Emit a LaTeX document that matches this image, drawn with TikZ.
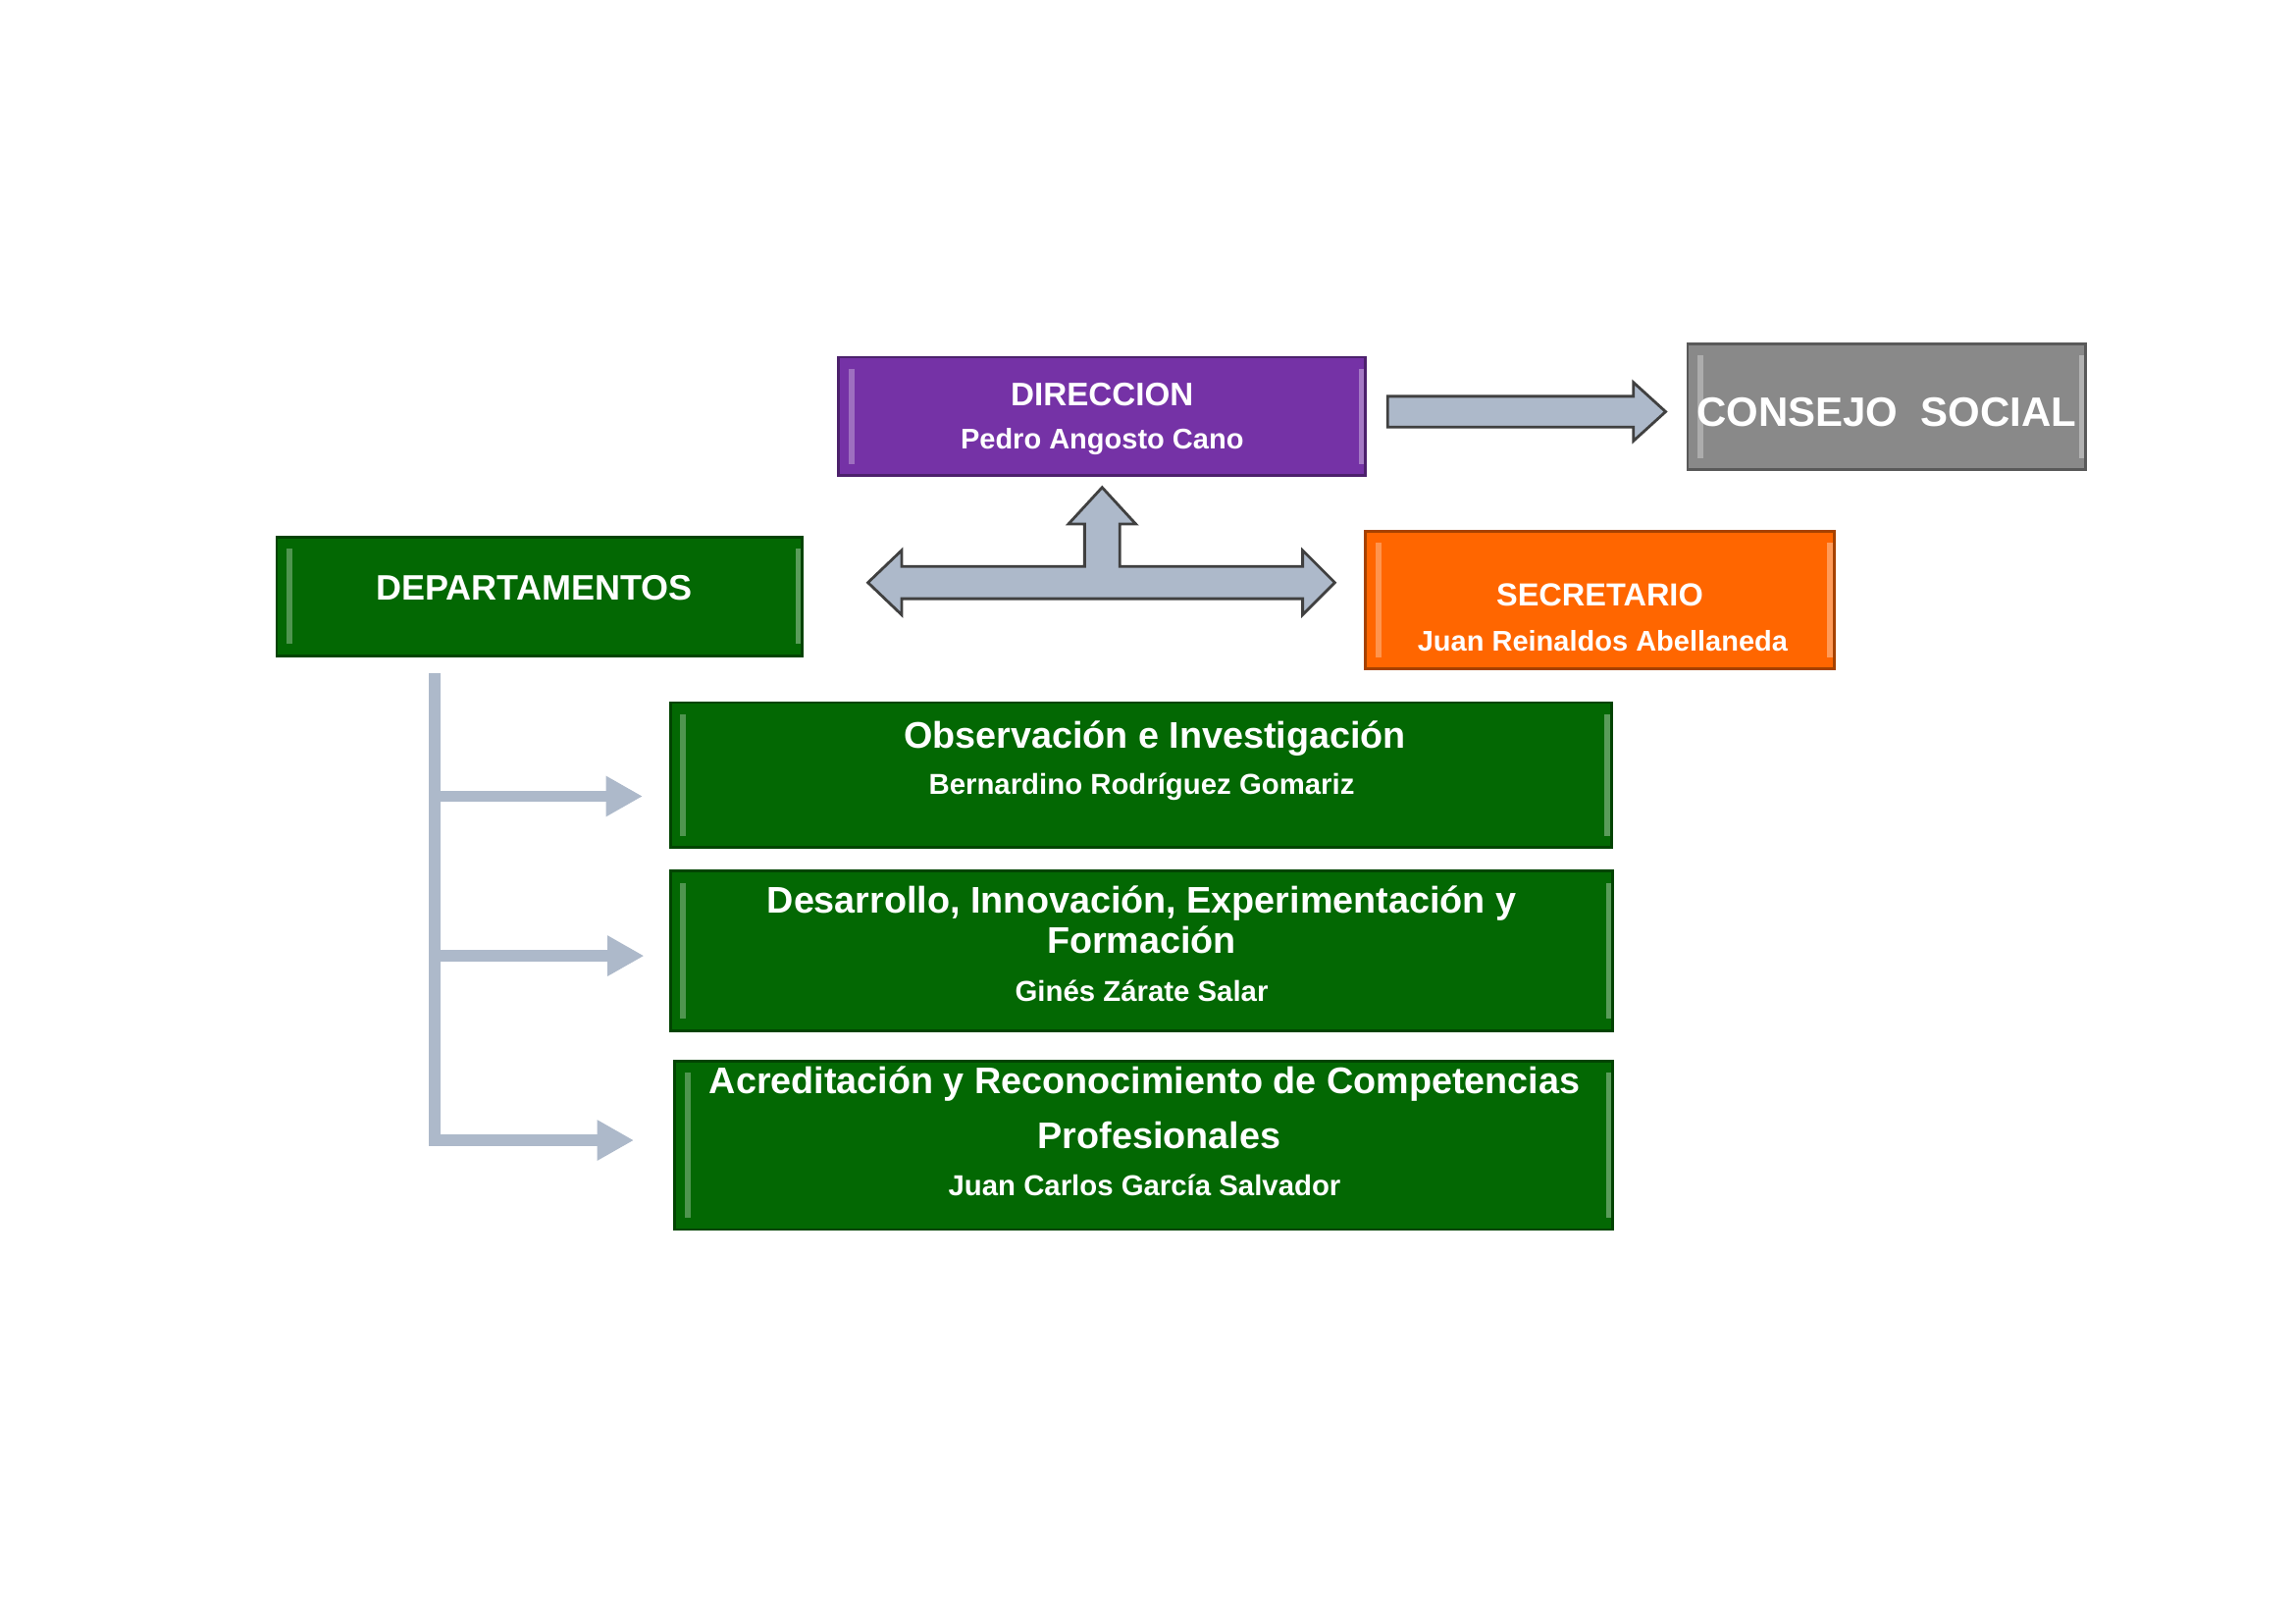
\documentclass[tikz,border=0pt]{standalone}
\usepackage{fontspec}
\setmainfont{Liberation Sans}
\usetikzlibrary{calc,arrows.meta}
\definecolor{dirpurple}{HTML}{7532A6}
\definecolor{consgray}{HTML}{898989}
\definecolor{secorange}{HTML}{FF6600}
\definecolor{depgreen}{HTML}{036803}
\definecolor{arrowgray}{HTML}{ADB9CA}
\newlength\unitpx \setlength\unitpx{0.15mm}
\tikzset{
  caja/.style={draw=#1!65!black, fill=#1, line width=0.8pt, inner sep=0pt,
    path picture={
      \fill[white,opacity=.3] ([xshift=1mm,yshift=-1.2mm]path picture bounding box.north west) rectangle ([xshift=1.6mm,yshift=1.2mm]path picture bounding box.south west);
      \fill[white,opacity=.35] ([xshift=-0.7mm,yshift=-1.2mm]path picture bounding box.north east) rectangle ([xshift=-0.1mm,yshift=1.2mm]path picture bounding box.south east);}},
  txt/.style={text=white, anchor=base, inner sep=0pt, font=\bfseries\fontsize{#1}{#1}\selectfont},
  flecha/.style={draw=black!75, fill=arrowgray, line width=0.8pt, line join=miter},
  rama/.style={draw=arrowgray, line width=1.2mm, -{Triangle[length=3.75mm, width=3.9mm]}}
}
\begin{document}
\begin{tikzpicture}[x=0.15mm, y=-0.15mm]
  \useasboundingbox (0,0) rectangle (1568,1109);
  % cajas
  \node[caja=dirpurple, minimum width=360\unitpx, minimum height=81\unitpx] (dir) at (753,284.5) {};
  \node[caja=consgray, minimum width=272\unitpx, minimum height=86\unitpx] (cons) at (1289,278) {};
  \node[caja=secorange, minimum width=320\unitpx, minimum height=94\unitpx] (sec) at (1093,410) {};
  \node[caja=depgreen, minimum width=359\unitpx, minimum height=81\unitpx] (dep) at (368.5,407.5) {};
  \node[caja=depgreen, minimum width=643\unitpx, minimum height=99\unitpx] (obs) at (779.5,529.5) {};
  \node[caja=depgreen, minimum width=644\unitpx, minimum height=109\unitpx] (des) at (780,649.5) {};
  \node[caja=depgreen, minimum width=641\unitpx, minimum height=115\unitpx] (acr) at (781.5,782.5) {};

  % textos
  \node[txt=9.5] (dirT) at (753,277) {DIRECCION};
  \node[txt=8.3] (dirN) at (753,307) {Pedro Angosto Cano};
  \node[txt=12] (consT) at (1289,291) {CONSEJO\ \ SOCIAL};
  \node[txt=9.3] (secT) at (1093,414) {SECRETARIO};
  \node[txt=8.3] (secN) at (1095,445) {Juan Reinaldos Abellaneda};
  \node[txt=10.3] (depT) at (365,410) {DEPARTAMENTOS};
  \node[txt=10.8] (obsT) at (789,511) {Observación e Investigación};
  \node[txt=8.4] (obsN) at (780,543) {Bernardino Rodríguez Gomariz};
  \node[txt=10.8] (desT) at (780,624) {Desarrollo, Innovación, Experimentación y};
  \node[txt=10.8] (desU) at (780,651) {Formación};
  \node[txt=8.4] (desN) at (780,684) {Ginés Zárate Salar};
  \node[txt=10.8] (acrT) at (782,747) {Acreditación y Reconocimiento de Competencias};
  \node[txt=10.8] (acrU) at (792,785) {Profesionales};
  \node[txt=8.4] (acrN) at (782,817) {Juan Carlos García Salvador};

  % flecha a consejo
  \begin{scope}[shift={($(dir.east)!0.5!(cons.west)$)}]
    \draw[flecha] (-95,-10.5) -- (73,-10.5) -- (73,-20) -- (95,0) -- (73,20) -- (73,10.5) -- (-95,10.5) -- cycle;
  \end{scope}

  % flecha triple
  \coordinate (hub) at (753,398);
  \begin{scope}[shift={(hub)}]
    \draw[flecha] (-160,0) -- (-137,-22) -- (-137,-11) -- (-12,-11) -- (-12,-40) -- (-23,-40) -- (0,-65)
      -- (23,-40) -- (12,-40) -- (12,-11) -- (137,-11) -- (137,-22) -- (159,0) -- (137,22) -- (137,11)
      -- (-137,11) -- (-137,22) -- cycle;
  \end{scope}

  % departamentos
  \coordinate (tronco) at (297,460);
  \coordinate (obsR) at ($(obs.west)+(-18,14.5)$);
  \coordinate (desR) at ($(des.west)+(-17,3.5)$);
  \coordinate (acrR) at ($(acr.west)+(-27,-3.5)$);
  \draw[rama] (tronco) |- (acrR);
  \draw[rama] (tronco |- obsR) -- (obsR);
  \draw[rama] (tronco |- desR) -- (desR);
\end{tikzpicture}
\end{document}
